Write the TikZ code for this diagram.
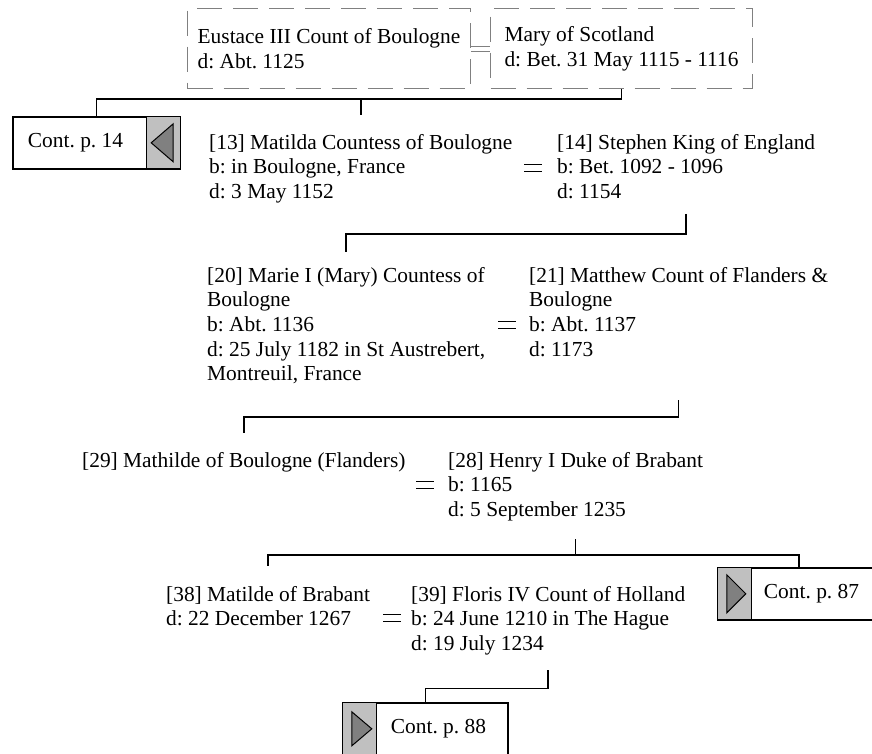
\documentclass[tikz,border=0pt]{standalone}
\usepackage{fontspec}
\setmainfont{Liberation Serif}
\frenchspacing
\definecolor{tabgray}{HTML}{C0C0C0}
\definecolor{trigray}{HTML}{808080}
\tikzset{
  person/.style={anchor=north west,inner sep=0pt,align=left},
  spouses/.style={draw=trigray,line width=1pt,dash pattern=on 25pt off 11pt,
    minimum height=80pt,anchor=north west,align=left,inner sep=0pt},
  link/.style={line width=1.5pt},
  contbox/.style={draw,fill=white,line width=1.6pt,minimum height=52pt,inner sep=0pt},
  conttab/.style={draw,fill=tabgray,line width=1.2pt,minimum height=52pt,minimum width=34pt,inner sep=0pt},
  tri/.style={draw,fill=trigray,line width=1pt},
  marr/.pic={\draw[line width=1.8pt] (-9,-3.5) -- (9,-3.5) (-9,3.5) -- (9,3.5);}
}
\begin{document}
\begin{tikzpicture}[x=1pt,y=-1pt,font=\fontsize{21.4}{24.6}\selectfont]
	  \useasboundingbox (0,0) rectangle (872,753);
	  % parents
	  \node[spouses,minimum width=283pt] (eustace) at (187,8) {Eustace III Count of Boulogne\\d: Abt. 1125};
	  \node[spouses,minimum width=262pt] (mary) at (490,8) {Mary of Scotland\\d: Bet. 31 May 1115 - 1116};
	  \draw[trigray,line width=1pt] ([yshift=2.5pt]eustace.east) -- ([yshift=2.5pt]mary.west)
	    ([yshift=-2.5pt]eustace.east) -- ([yshift=-2.5pt]mary.west);
	  % generation 1
	  \node[contbox,minimum width=167pt] (c14) at (96.5,143) {Cont. p. 14\kern42pt};
	  \node[conttab,anchor=north east] (t14) at (c14.north east) {};
	  \draw[tri] ([xshift=-12pt]t14.center) -- ([xshift=10pt,yshift=19pt]t14.center)
	    -- ([xshift=10pt,yshift=-19pt]t14.center) -- cycle;
	  \node[person] (matilda) at (209,134) {[13] Matilda Countess of Boulogne\\b: in Boulogne, France\\d: 3 May 1152};
	  \node[person] (stephen) at (557,134) {[14] Stephen King of England\\b: Bet. 1092 - 1096\\d: 1154};
	  \pic at (533,168) {marr};
	  \draw[link] (mary.south) -- ++(0,10) -| (c14.north);
	  \draw[link] (mary.south) ++(0,10) -| ([yshift=19pt]matilda.north);
	  % generation 2
	  \node[person] (marie) at (207,267) {[20] Marie I (Mary) Countess of\\Boulogne\\b: Abt. 1136\\d: 25 July 1182 in St Austrebert,\\Montreuil, France};
	  \node[person] (matthew) at (529,267) {[21] Matthew Count of Flanders \&\\Boulogne\\b: Abt. 1137\\d: 1173};
	  \pic at (507,325) {marr};
	  \draw[link] ([yshift=-15pt]stephen.south) -- ++(0,20) -| ([yshift=15pt]marie.north);
	  % generation 3
	  \node[person] (mathilde) at (82,452) {[29] Mathilde of Boulogne (Flanders)};
	  \node[person] (henry) at (448,452) {[28] Henry I Duke of Brabant\\b: 1165\\d: 5 September 1235};
	  \pic at (425,485) {marr};
	  \draw[link] (matthew.south |- marie.south) ++(0,16) -- ++(0,17) -| ([yshift=19pt]mathilde.north);
	  % generation 4
	  \node[person] (matilde) at (166,586) {[38] Matilde of Brabant\\d: 22 December 1267};
	  \node[person] (floris) at (411,586) {[39] Floris IV Count of Holland\\b: 24 June 1210 in The Hague\\d: 19 July 1234};
	  \pic at (392,618) {marr};
	  \node[contbox,minimum width=162pt] (c87) at (799,594) {\hspace{25pt}Cont. p. 87};
	  \node[conttab,anchor=north west] (t87) at (c87.north west) {};
	  \draw[tri] ([xshift=-8pt,yshift=19pt]t87.center) -- ([xshift=-8pt,yshift=-19pt]t87.center)
	    -- ([xshift=11pt]t87.center) -- cycle;
	  \draw[link] ([yshift=-18pt]henry.south) -- ++(0,16) coordinate (bar4);
	  \draw[link] (c87.north) |- (bar4) -| ([yshift=20pt]matilde.north);
	  % generation 5
	  \node[contbox,minimum width=165pt] (c88) at (425.5,729) {\hspace{26pt}Cont. p. 88};
	  \node[conttab,anchor=north west] (t88) at (c88.north west) {};
	  \draw[tri] ([xshift=-8pt,yshift=17pt]t88.center) -- ([xshift=-8pt,yshift=-17pt]t88.center)
	    -- ([xshift=12pt]t88.center) -- cycle;
	  \draw[link] ([yshift=-15pt]floris.south) -- ++(0,18) -| (c88.north);
	\end{tikzpicture}
\end{document}
